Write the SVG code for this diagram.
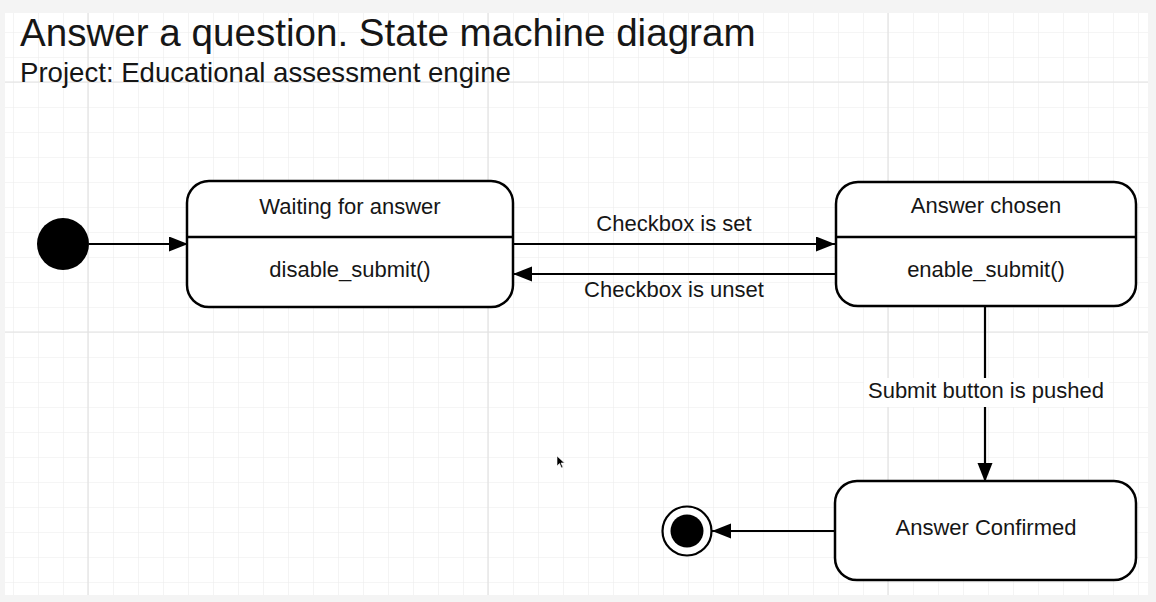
<svg xmlns="http://www.w3.org/2000/svg" width="1156" height="602" viewBox="0 0 1156 602">
  <defs>
    <style>
      .t { font-family: "Liberation Sans", Arial, sans-serif; fill: #161616; }
      .lbl { font-size: 22px; text-anchor: middle; }
      .state { fill: #ffffff; stroke: #000000; stroke-width: 2.5; }
      .div { stroke: #000000; stroke-width: 2.5; }
      .edge { stroke: #000000; stroke-width: 2.2; fill: none; }
    </style>
    <pattern id="grid" patternUnits="userSpaceOnUse" x="13" y="7" width="25" height="25">
      <path d="M0 0 H25 M0 0 V25" stroke="#ececec" stroke-width="1.2" fill="none"/>
    </pattern>
    <marker id="arr" markerUnits="userSpaceOnUse" markerWidth="20" markerHeight="16" refX="19" refY="7.5" orient="auto">
      <path d="M0 0 L19 7.5 L0 15 Z" fill="#000000"/>
    </marker>
  </defs>

  <rect x="0" y="0" width="1156" height="602" fill="#f4f4f4"/>
  <rect x="5" y="13" width="1143" height="582" fill="#ffffff"/>
  <rect x="5" y="13" width="1143" height="582" fill="url(#grid)"/>
  <g stroke="#e2e2e2" stroke-width="1.2">
    <line x1="88" y1="13" x2="88" y2="595"/>
    <line x1="488" y1="13" x2="488" y2="595"/>
    <line x1="888" y1="13" x2="888" y2="595"/>
    <line x1="5" y1="82" x2="1148" y2="82"/>
    <line x1="5" y1="332" x2="1148" y2="332"/>
  </g>

  <text class="t" x="20" y="46" font-size="38.6">Answer a question. State machine diagram</text>
  <text class="t" x="20" y="82" font-size="27.6">Project: Educational assessment engine</text>

  <g id="connectors">
    <line class="edge" x1="89" y1="244" x2="188" y2="244" marker-end="url(#arr)"/>
    <line class="edge" x1="513" y1="244" x2="835" y2="244" marker-end="url(#arr)"/>
    <line class="edge" x1="836" y1="274" x2="513" y2="274" marker-end="url(#arr)"/>
    <line class="edge" x1="985" y1="306" x2="985" y2="482" marker-end="url(#arr)"/>
    <line class="edge" x1="835" y1="531" x2="712" y2="531" marker-end="url(#arr)"/>
    <text class="t lbl" x="674" y="231">Checkbox is set</text>
    <text class="t lbl" x="674" y="297">Checkbox is unset</text>
    <rect x="864" y="378" width="245" height="29" fill="#ffffff"/>
    <text class="t lbl" x="986" y="398">Submit button is pushed</text>
  </g>

  <g id="initial">
    <circle cx="63" cy="244" r="26" fill="#000000"/>
  </g>

  <g id="waiting">
    <rect class="state" x="187" y="181" width="326" height="126" rx="22" ry="22"/>
    <line class="div" x1="187" y1="237" x2="513" y2="237"/>
    <text class="t lbl" x="350" y="214">Waiting for answer</text>
    <text class="t lbl" x="350" y="277">disable_submit()</text>
  </g>

  <g id="chosen">
    <rect class="state" x="836" y="182" width="300" height="124" rx="22" ry="22"/>
    <line class="div" x1="836" y1="237" x2="1136" y2="237"/>
    <text class="t lbl" x="986" y="213">Answer chosen</text>
    <text class="t lbl" x="986" y="277">enable_submit()</text>
  </g>

  <g id="confirmed">
    <rect class="state" x="835" y="481" width="301" height="99" rx="22" ry="22"/>
    <text class="t lbl" x="986" y="535">Answer Confirmed</text>
  </g>

  <g id="final">
    <circle cx="687" cy="531" r="24.5" fill="#ffffff" stroke="#000000" stroke-width="2.2"/>
    <circle cx="687" cy="531" r="16.5" fill="#000000"/>
  </g>

  <path d="M557 456 L557 466 L559.5 463.5 L561.5 468 L563 467.3 L561 463 L564.5 463 Z" fill="#000000" stroke="#ffffff" stroke-width="0.6"/>
</svg>
